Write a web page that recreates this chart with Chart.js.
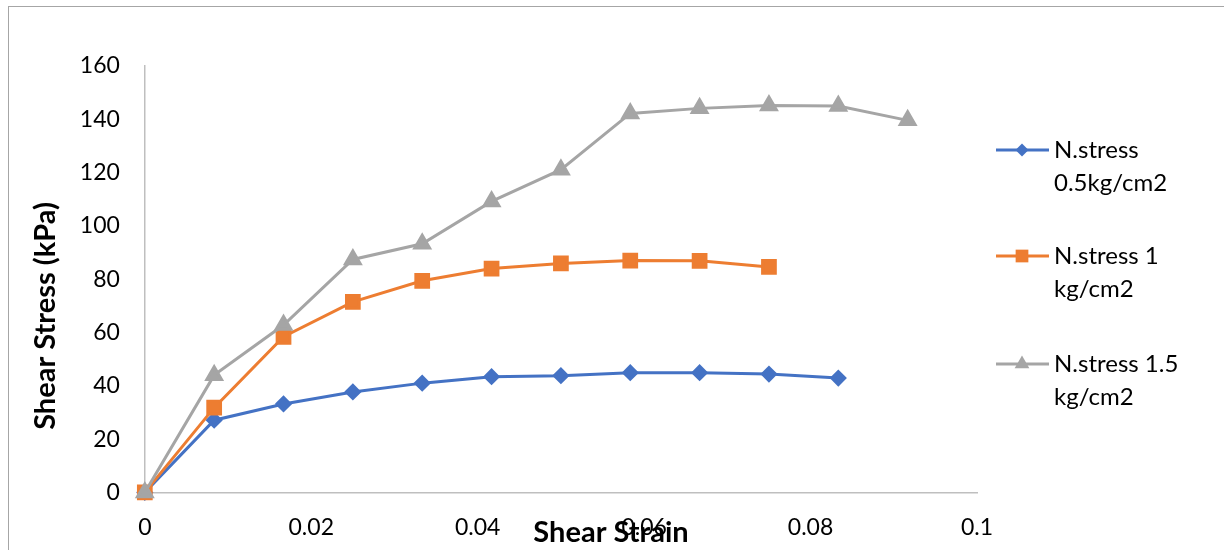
<!DOCTYPE html>
<html>
<head>
<meta charset="utf-8">
<script src="https://cdn.jsdelivr.net/npm/chart.js@4.4.1/dist/chart.umd.min.js"></script>
<style>
  body { margin: 0; background: #fff; }
  #frame { position: absolute; left: 8px; top: 6px; width: 1230px; height: 560px;
           border-left: 1.5px solid #a6a6a6; border-top: 1.5px solid #a6a6a6; }
  #wrap { position: absolute; left: 0; top: 0; width: 1224px; height: 550px; }
</style>
</head>
<body>
<div id="frame"></div>
<div id="wrap"><canvas id="chartCanvas"></canvas></div>
<script>
// shear strain readings
const strain = [0, 0.008333, 0.016667, 0.025, 0.033333, 0.041667, 0.05, 0.058333, 0.066667, 0.075, 0.083333, 0.091667];
// shear stress (kPa) per normal stress
const stress05 = [0, 27.1, 33.2, 37.7, 41, 43.4, 43.8, 44.9, 44.9, 44.4, 42.9];
const stress10 = [0, 31.8, 58.4, 71.5, 79.4, 84, 85.9, 87, 86.9, 84.6];
const stress15 = [0, 44, 62.8, 87.4, 93.3, 109.2, 121.1, 142.2, 144.1, 145.2, 145, 139.6];
const seriesNames = [['N.stress', '0.5kg/cm2'], ['N.stress 1', 'kg/cm2'], ['N.stress 1.5', 'kg/cm2']];
const xTicks = [0, 0.02, 0.04, 0.06, 0.08, 0.1];
const yTicks = [0, 20, 40, 60, 80, 100, 120, 140, 160];

const toPoints = vals => vals.map((v, i) => ({ x: strain[i], y: v }));

const fontFam = 'Lato, "Open Sans", sans-serif';

// legend drawn to look like an office chart legend (line through marker, wrapped text)
const sideLegend = {
    id: 'sideLegend',
    afterDraw(chart){
        const ctx = chart.ctx;
        const ys = [150, 256, 364];
        chart.data.datasets.forEach((ds, i) => {
            const y = ys[i];
            ctx.save();
            ctx.strokeStyle = ds.borderColor;
            ctx.lineWidth = 3;
            ctx.beginPath();
            ctx.moveTo(996, y);
            ctx.lineTo(1049, y);
            ctx.stroke();
            ctx.fillStyle = ds.backgroundColor;
            Chart.helpers.drawPoint(ctx, { pointStyle: ds.pointStyle, radius: ds.pointRadius, rotation: 0, borderWidth: 0 }, 1022, y);
            ctx.fillStyle = '#000';
            ctx.font = '24px ' + fontFam;
            ctx.textBaseline = 'middle';
            ctx.textAlign = 'left';
            seriesNames[i].forEach((line, k) => ctx.fillText(line, 1054, y + k * 33));
            ctx.restore();
        });
    }
};

// axis titles placed like the office original (x over the tick labels, y a bit low)
const axisTitles = {
    id: 'axisTitles',
    afterDraw(chart){
        const ctx = chart.ctx;
        ctx.save();
        ctx.fillStyle = '#000';
        ctx.font = 'bold 29px ' + fontFam;
        ctx.textAlign = 'center';
        ctx.textBaseline = 'middle';
        ctx.fillText('Shear Strain', 611, 533);
        ctx.translate(46, 316);
        ctx.rotate(-Math.PI / 2);
        ctx.fillText('Shear Stress (kPa)', 0, 0);
        ctx.restore();
    }
};

const ctx = document.getElementById('chartCanvas');
new Chart(ctx, {
    type: 'line',
    data: {
        datasets: [
            { label: seriesNames[0].join(' '), data: toPoints(stress05), borderColor: '#4472c4', backgroundColor: '#4472c4',
              pointStyle: 'rectRot', pointRadius: 6.5, borderWidth: 3, order: 3, clip: false },
            { label: seriesNames[1].join(' '), data: toPoints(stress10), borderColor: '#ed7d31', backgroundColor: '#ed7d31',
              pointStyle: 'rect', pointRadius: 9, borderWidth: 3, order: 2, clip: false },
            { label: seriesNames[2].join(' '), data: toPoints(stress15), borderColor: '#a5a5a5', backgroundColor: '#a5a5a5',
              pointStyle: 'triangle', pointRadius: 8.5, borderWidth: 3, order: 1, clip: false }
        ]
    },
    options: {
        responsive: true,
        maintainAspectRatio: false,
        animation: false,
        layout: { padding: { left: 27, right: 247, top: 66, bottom: -12 } },
        plugins: { legend: { display: false }, tooltip: { enabled: false } },
        elements: { line: { tension: 0 }, point: { borderWidth: 0 } },
        scales: {
            x: {
                type: 'linear', min: 0, max: 0.1,
                afterBuildTicks: s => { s.ticks = xTicks.map(v => ({ value: v })); },
                grid: { display: false, drawTicks: false },
                border: { color: '#bfbfbf', width: 1.5 },
                ticks: { color: '#000', padding: 21, font: { family: fontFam, size: 23 }, maxRotation: 0,
                         callback: v => String(v) }
            },
            y: {
                min: 0, max: 160,
                afterBuildTicks: s => { s.ticks = yTicks.map(v => ({ value: v })); },
                grid: { display: false, drawTicks: false },
                border: { color: '#bfbfbf', width: 1.5 },
                // keeps the room for the title; the text itself is drawn by axisTitles
                title: { display: true, text: 'Shear Stress (kPa)', color: 'rgba(0,0,0,0)',
                         font: { family: fontFam, size: 29, weight: 'bold' }, padding: { top: 0, bottom: -7 } },
                ticks: { color: '#000', padding: 25, font: { family: fontFam, size: 23 } }
            }
        }
    },
    plugins: [sideLegend, axisTitles]
});
</script>
</body>
</html>
